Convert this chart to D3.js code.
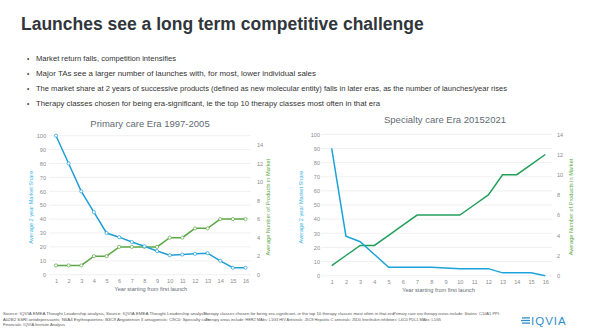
<!DOCTYPE html>
<html>
<head>
<meta charset="utf-8">
<script src="https://cdn.jsdelivr.net/npm/d3@7"></script>
<style>
  body { margin: 0; background: #fff; }
  svg { display: block; font-family: "Liberation Sans", Arial, sans-serif; }
</style>
</head>
<body>
<div id="slide"></div>
<script>
// years since first launch, shared by both panels
const years = d3.range(1, 17);

// primary care era 1997-2005
const primaryShare = [100, 80, 60, 45, 30, 27, 23.5, 20.5, 17, 14, 14.5, 15, 15.5, 10, 5, 5];
const primaryProducts = [1, 1, 1, 2, 2, 3, 3, 3, 3, 4, 4, 5, 5, 6, 6, 6];

// specialty care era 2015-2021
const specialtyShare = [90, 28, 24, 15, 6, 6, 6, 6, 5.5, 5, 5, 5, 2, 2, 2, 0];
const specialtyProducts = [1, 2, 3, 3, 4, 5, 6, 6, 6, 6, 7, 8, 10, 10, 11, 12];

const shareTicks = d3.range(0, 101, 10);
const productTicks = d3.range(0, 15, 2);

const bullets = [
  "Market return falls, competition intensifies",
  "Major TAs see a larger number of launches with, for most, lower individual sales",
  "The market share at 2 years of successive products (defined as new molecular entity) falls in later eras, as the number of launches/year rises",
  "Therapy classes chosen for being era-significant, ie the top 10 therapy classes most often in that era"
];

const width = 591, height = 336;

const svg = d3.select('#slide').append('svg')
  .attr('width', width)
  .attr('height', height);

svg.append('text')
  .attr('x', 21).attr('y', 30)
  .attr('font-size', 17.5)
  .attr('font-weight', 'bold')
  .attr('fill', '#30363b')
  .text('Launches see a long term competitive challenge');

const bulletY = [59, 73.5, 88.5, 104];
const bulletW = [140, 280, 471, 344];
bullets.forEach((b, i) => {
  svg.append('text').attr('x', 27).attr('y', bulletY[i] + 2.4)
    .attr('font-size', 6.5).attr('fill', '#444').text('•');
  svg.append('text').attr('x', 36).attr('y', bulletY[i] + 2.4)
    .attr('font-size', 7)
    .attr('textLength', bulletW[i])
    .attr('lengthAdjust', 'spacingAndGlyphs')
    .attr('fill', '#333').text(b);
});

const drawChart = (cfg) => {
  const x = d3.scaleLinear().domain([1, 16]).range([cfg.x0, cfg.x1]);
  const yL = d3.scaleLinear().domain([0, 100]).range([cfg.yBottom, cfg.yTop]);
  const yR = d3.scaleLinear().domain([0, cfg.rightMax]).range([cfg.yBottom, cfg.yTop]);

  const g = svg.append('g');

  // gridlines
  g.append('g')
    .selectAll('line')
    .data(shareTicks)
    .join('line')
    .attr('x1', cfg.gridL).attr('x2', cfg.gridR)
    .attr('y1', d => yL(d)).attr('y2', d => yL(d))
    .attr('stroke', '#e6e6e6')
    .attr('stroke-width', 0.6);

  const axisL = g.append('g')
    .attr('transform', `translate(${cfg.leftLabelX}, 0)`)
    .call(d3.axisLeft(yL).tickValues(shareTicks).tickSize(0).tickPadding(0));
  const axisR = g.append('g')
    .attr('transform', `translate(${cfg.rightLabelX}, 0)`)
    .call(d3.axisRight(yR).tickValues(productTicks).tickSize(0).tickPadding(0));
  const axisB = g.append('g')
    .attr('transform', `translate(0, ${cfg.xLabelY})`)
    .call(d3.axisBottom(x).tickValues(years).tickFormat(d3.format('d')).tickSize(0).tickPadding(0));

  [axisL, axisR, axisB].forEach(a => {
    a.select('.domain').remove();
    a.selectAll('text')
      .attr('font-size', 5.6)
      .attr('font-family', '"Liberation Sans", Arial, sans-serif')
      .attr('fill', '#8c8c8c');
  });

  // chart title
  g.append('text')
    .attr('x', cfg.titleX).attr('y', cfg.titleY)
    .attr('text-anchor', 'middle')
    .attr('font-size', 9.5)
    .attr('fill', '#5f6b73')
    .text(cfg.title);

  g.append('text')
    .attr('x', (cfg.x0 + cfg.x1) / 2).attr('y', cfg.xLabelY + 12)
    .attr('text-anchor', 'middle')
    .attr('font-size', 5.6)
    .attr('fill', '#5f6b73')
    .text('Year starting from first launch');

  const midY = (cfg.yTop + cfg.yBottom) / 2 + 2;
  g.append('text')
    .attr('transform', `translate(${cfg.leftTitleX}, ${midY}) rotate(-90)`)
    .attr('text-anchor', 'middle')
    .attr('font-size', 5.6)
    .attr('fill', '#3ab4e4')
    .text('Average 2 year Market Share');
  g.append('text')
    .attr('transform', `translate(${cfg.rightTitleX}, ${midY}) rotate(-90)`)
    .attr('text-anchor', 'middle')
    .attr('font-size', 5.6)
    .attr('fill', cfg.rightTitleColor)
    .text('Average Number of Products in Market');

  const shareLine = d3.line().x((d, i) => x(years[i])).y(d => yL(d));
  const productLine = d3.line().x((d, i) => x(years[i])).y(d => yR(d));

  g.append('path')
    .datum(cfg.products)
    .attr('fill', 'none')
    .attr('stroke', cfg.greenColor)
    .attr('stroke-width', 1.5)
    .attr('d', productLine);

  g.append('path')
    .datum(cfg.share)
    .attr('fill', 'none')
    .attr('stroke', cfg.blueColor)
    .attr('stroke-width', 1.5)
    .attr('d', shareLine);

  if (cfg.markers) {
    [[cfg.products, yR, cfg.greenColor], [cfg.share, yL, cfg.blueColor]].forEach(([vals, sc, col]) => {
      g.append('g')
        .selectAll('circle')
        .data(vals)
        .join('circle')
        .attr('cx', (d, i) => x(years[i]))
        .attr('cy', d => sc(d))
        .attr('r', 1.6)
        .attr('fill', '#fff')
        .attr('stroke', col)
        .attr('stroke-width', 0.7);
    });
  }
};

drawChart({
  title: 'Primary care Era 1997-2005',
  titleX: 150, titleY: 127,
  x0: 56, x1: 245.5,
  yTop: 135.7, yBottom: 274.7,
  gridL: 49, gridR: 251,
  leftLabelX: 46, rightLabelX: 257,
  xLabelY: 279,
  leftTitleX: 33, rightTitleX: 270,
  rightMax: 15,
  share: primaryShare,
  products: primaryProducts,
  blueColor: '#1f9fd5',
  greenColor: '#5aa843',
  rightTitleColor: '#5aa843',
  markers: true
});

drawChart({
  title: 'Specialty care Era 20152021',
  titleX: 445, titleY: 123,
  x0: 331.7, x1: 545.3,
  yTop: 134.3, yBottom: 275.7,
  gridL: 322, gridR: 552,
  leftLabelX: 320, rightLabelX: 557,
  xLabelY: 280,
  leftTitleX: 303, rightTitleX: 573,
  rightMax: 14,
  share: specialtyShare,
  products: specialtyProducts,
  blueColor: '#1ba3da',
  greenColor: '#22a05a',
  rightTitleColor: '#5aa843',
  markers: false
});

// footer source notes (text boxes overlap on the slide)
const footer = [
  { x: 3, y: 315, w: 205, t: 'Source: IQVIA EMEA Thought Leadership analysis, Source: IQVIA EMEA Thought Leadership analysis;' },
  { x: 203, y: 315, w: 192, t: 'Therapy classes chosen for being era-significant, ie the top 10 therapy classes most often in that era;' },
  { x: 393, y: 315, w: 107, t: 'Primary care era therapy areas include: Statins: C10A1 PPI:' },
  { x: 3, y: 320.5, w: 207, t: 'A02B2 SSRI antidepressants: N6A4 Erythropoietins: B3C9 Angiotensin II antagonists: C9C0; Specialty care' },
  { x: 205, y: 320.5, w: 236, t: 'Therapy areas include: HER2 MAbs: L1G3 HIV Antivirals: J5C9 Hepatitis C antivirals: J5D0 Interleukin inhibitors: L4C0 PDL1 MAbs: L1G5' },
  { x: 3, y: 326, w: 62, t: 'Financials: IQVIA Institute Analysis' }
];
svg.append('g')
  .selectAll('text')
  .data(footer)
  .join('text')
  .attr('x', d => d.x).attr('y', d => d.y)
  .attr('textLength', d => d.w)
  .attr('lengthAdjust', 'spacingAndGlyphs')
  .attr('font-size', 4.4)
  .attr('fill', '#555')
  .text(d => d.t);

// IQVIA logo
const logo = svg.append('g').attr('transform', 'translate(521, 320.5)');
[-2.6, 0, 2.6].forEach((dy, i) => {
  logo.append('line')
    .attr('x1', i === 1 ? 0 : 1).attr('x2', 9)
    .attr('y1', dy).attr('y2', dy)
    .attr('stroke', '#2f8fc6')
    .attr('stroke-width', 1.3);
});
logo.append('text')
  .attr('x', 10).attr('y', 4.2)
  .attr('font-size', 11.5)
  .attr('letter-spacing', 1)
  .attr('fill', '#2f8fc6')
  .text('IQVIA');
</script>
</body>
</html>
